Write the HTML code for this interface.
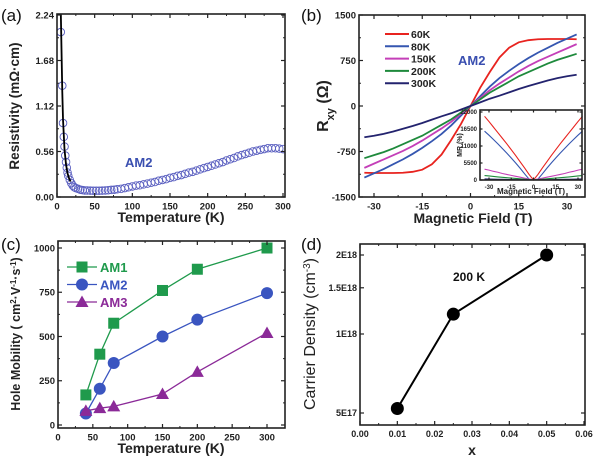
<!DOCTYPE html>
<html><head><meta charset="utf-8"><style>
html,body{margin:0;padding:0;background:#fff;}
svg{display:block;font-family:"Liberation Sans",Arial,sans-serif;}
.tk{font-weight:bold;fill:#222;}
.ttl{font-weight:bold;fill:#222;}
.pl{font-size:17px;fill:#111;}
</style></head><body>
<svg id="fig" width="600" height="462" viewBox="0 0 600 462" xmlns="http://www.w3.org/2000/svg"></svg>
<script>
// ---- Panel (a) data ----
const aTemps=[5,7,8,9,10,11,12,13,14,15,17,19,21,23,25,28,31,34,37,40,44,48,52,56,60,64,68,72,76,80,85,90,95,100,105,110,115,120,125,130,135,140,145,150,155,160,165,170,175,180,185,190,195,200,205,210,215,220,225,230,235,240,245,250,255,260,265,270,275,280,285,290,295,300];
const aRes=[2.03,1.37,0.91,0.74,0.62,0.51,0.43,0.36,0.3,0.26,0.21,0.17,0.14,0.12,0.11,0.1,0.09,0.085,0.08,0.08,0.078,0.077,0.077,0.077,0.078,0.08,0.083,0.087,0.09,0.095,0.1,0.11,0.12,0.13,0.14,0.145,0.155,0.165,0.175,0.185,0.2,0.21,0.22,0.235,0.245,0.26,0.27,0.285,0.3,0.31,0.325,0.34,0.355,0.37,0.385,0.4,0.415,0.43,0.45,0.465,0.48,0.5,0.515,0.53,0.545,0.56,0.57,0.58,0.59,0.6,0.6,0.6,0.595,0.59];
const aFitT=[4.5,5,6,7,8,10,12,14,16,18];
const aFitR=[2.6,2.3,1.8,1.3,0.95,0.58,0.4,0.29,0.23,0.19];
const aXTicks=[0,50,100,150,200,250,300];
const aYTicks=[0,0.56,1.12,1.68,2.24];
const aYLabels=["0.00","0.56","1.12","1.68","2.24"];
// ---- Panel (b) data ----
const bFields=[0,3,6,9,12,15,18,21,24,27,30,33];
const bNames=["60K","80K","150K","200K","300K"];
const bColors=["#e8231f","#3556b0","#c43fb8","#1e8a3c","#23236e"];
const b60=[0,300,560,800,960,1050,1085,1100,1105,1105,1105,1100];
const b80=[0,160,320,460,580,690,790,880,960,1040,1110,1180];
const b150=[0,130,260,370,470,570,660,740,810,880,950,1020];
const b200=[0,110,220,310,400,490,560,630,700,760,810,860];
const b300=[0,60,120,170,225,280,330,375,420,460,490,515];
const bXTicks=[-30,-15,0,15,30];
const bYTicks=[-1500,-750,0,750,1500];
const mr60=[0,1800,3900,5900,7900,9800,11700,13500,15300,17100,18900,20600];
const mr80=[0,300,2000,3800,5500,7100,8700,10200,11700,13100,14500,15800];
const mr150=[0,300,600,900,1200,1500,1800,2100,2500,2800,3200,3500];
const mr200=[0,120,250,380,500,630,750,880,1000,1150,1300,1450];
const mr300=[0,30,60,90,120,150,180,210,240,270,300,330];
const mrYTicks=[0,5500,11000,16500,22000];
// ---- Panel (c) data ----
const cTemps=[40,60,80,150,200,300];
const cAM1=[170,400,575,760,880,1000];
const cAM2=[65,205,350,500,595,745];
const cAM3=[80,95,105,175,300,520];
const cXTicks=[0,50,100,150,200,250,300];
const cYTicks=[0,250,500,750,1000];
// ---- Panel (d) data ----
const dX=[0.01,0.025,0.05];
const dN=[5.2e17,1.19e18,2e18];
const dXTicks=[0,0.01,0.02,0.03,0.04,0.05,0.06];
const dYTicks=[5e17,1e18,1.5e18,2e18];
const dYLabels=["5E17","1E18","1.5E18","2E18"];

const NS="http://www.w3.org/2000/svg";
const fig=document.getElementById('fig');
function el(tag,attrs,parent,text){const e=document.createElementNS(NS,tag);for(const k in attrs)e.setAttribute(k,attrs[k]);if(text!==undefined)e.textContent=text;(parent||fig).appendChild(e);return e;}
function lin(d0,d1,r0,r1){return v=>r0+(v-d0)/(d1-d0)*(r1-r0);}

function frame(g,L,T,R,B,sx,sy,xt,yt,xl,yl,fs,minorX,minorY,tl){
  fs=fs||9.5;tl=tl||4;
  const box=el('rect',{x:L,y:T,width:R-L,height:B-T,fill:'none',stroke:'#222','stroke-width':1.6},g);
  
  
  xt.forEach((v,i)=>{const x=sx(v);
    el('line',{x1:x,x2:x,y1:B,y2:B-tl,stroke:'#222','stroke-width':1.2},g);
    el('line',{x1:x,x2:x,y1:T,y2:T+tl,stroke:'#222','stroke-width':1.2},g);
    const t=el('text',{x:x,y:B+fs+3,'text-anchor':'middle',class:'tk',style:'font-size:'+fs+'px'},g,xl[i]);
    
    });
  yt.forEach((v,i)=>{const y=sy(v);
    el('line',{x1:L,x2:L+tl,y1:y,y2:y,stroke:'#222','stroke-width':1.2},g);
    el('line',{x1:R,x2:R-tl,y1:y,y2:y,stroke:'#222','stroke-width':1.2},g);
    const t=el('text',{x:L-3,y:y+fs*0.35,'text-anchor':'end',class:'tk',style:'font-size:'+fs+'px'},g,yl[i]);
    
    });
  (minorX||[]).forEach(v=>{const x=sx(v);el('line',{x1:x,x2:x,y1:B,y2:B-2,stroke:'#222'},g);el('line',{x1:x,x2:x,y1:T,y2:T+2,stroke:'#222'},g);});
  (minorY||[]).forEach(v=>{const y=sy(v);el('line',{x1:L,x2:L+2,y1:y,y2:y,stroke:'#222'},g);el('line',{x1:R,x2:R-2,y1:y,y2:y,stroke:'#222'},g);});
}
function poly(g,xs,ys,sx,sy,color,w,name){
  const p=el('polyline',{points:xs.map((x,i)=>sx(x)+','+sy(ys[i])).join(' '),fill:'none',stroke:color,'stroke-width':w},g);
  
  
  return p;
}
function mids(a){const r=[];for(let i=0;i<a.length-1;i++)r.push((a[i]+a[i+1])/2);return r;}

// ===== Panel (a) =====
{const g=el('g',{});


const L=57,T=14,R=285,B=197;
const sx=lin(0,300,57,283),sy=lin(0,2.24,197,15);
el('clipPath',{id:'ca'},g);el('rect',{x:L,y:T,width:R-L,height:B-T},document.getElementById('ca'));
const dg=el('g',{'clip-path':'url(#ca)'},g);
aTemps.forEach((t,i)=>{const c=el('circle',{cx:sx(t),cy:sy(aRes[i]),r:3.8,fill:'none',stroke:'#5a5fc0','stroke-width':0.9},dg);

});
poly(dg,aFitT,aFitR,sx,sy,'#000',1.8,'fit-line');
frame(g,L,T,R,B,sx,sy,aXTicks,aYTicks,aXTicks.map(String),aYLabels,9.5,mids(aXTicks),mids(aYTicks));
let t=el('text',{x:125,y:167,fill:'#3a4fb0',style:'font-size:13px','font-weight':'bold'},g,'AM2');

t=el('text',{x:171,y:222,'text-anchor':'middle',class:'ttl',style:'font-size:14px'},g,'Temperature (K)');

t=el('text',{transform:'translate(19,106) rotate(-90)','text-anchor':'middle',class:'ttl',style:'font-size:13.5px'},g,'Resistivity (mΩ·cm)');

t=el('text',{x:1,y:21,class:'pl'},g,'(a)');

}

// ===== Panel (b) =====
{const g=el('g',{});


const L=359,T=15,R=585,B=197;
const sx=lin(-30,30,374,567),sy=lin(-1500,1500,197,15);
const series=[b60,b80,b150,b200,b300];
series.forEach((s,k)=>{const xs=[],ys=[];
 for(let i=bFields.length-1;i>0;i--){xs.push(-bFields[i]);ys.push(-s[i]);}
 bFields.forEach((f,i)=>{xs.push(f);ys.push(s[i]);});
 poly(g,xs,ys,sx,sy,bColors[k],1.8,'rxy-curve-'+bNames[k]);});
frame(g,L,T,R,B,sx,sy,bXTicks,bYTicks,bXTicks.map(String),bYTicks.map(String),9.5,mids(bXTicks),mids(bYTicks));
bNames.forEach((n,k)=>{const y=34+k*12.3;
 const ln=el('line',{x1:385,x2:409,y1:y,y2:y,stroke:bColors[k],'stroke-width':2},g);
 
 const t=el('text',{x:411,y:y+4,class:'tk',style:'font-size:10.5px'},g,n);
 });
let t=el('text',{x:458,y:65,fill:'#3a4fb0',style:'font-size:13px','font-weight':'bold'},g,'AM2');

// inset
const ig=el('g',{},g);


const iL=480,iT=110,iR=582,iB=180;
el('rect',{x:iL,y:iT,width:iR-iL,height:iB-iT,fill:'#fff'},ig);
const ix=lin(-30,30,489,578),iy=lin(0,22000,180,112);
[mr60,mr80,mr150,mr200,mr300].forEach((s,k)=>{const xs=[],ys=[];
 for(let i=bFields.length-1;i>0;i--){xs.push(-bFields[i]);ys.push(s[i]);}
 bFields.forEach((f,i)=>{xs.push(f);ys.push(s[i]);});
 poly(ig,xs,ys,ix,iy,bColors[k],1.1,'mr-curve-'+bNames[k]);});
frame(ig,iL,iT,iR,iB,ix,iy,bXTicks,mrYTicks,bXTicks.map(String),mrYTicks.map(String),6,null,null,2.5);
t=el('text',{x:531,y:194,'text-anchor':'middle',style:'font-size:8px','font-weight':'bold',fill:'#222'},ig,'Magnetic Field (T)');

t=el('text',{transform:'translate(462,145) rotate(-90)','text-anchor':'middle',style:'font-size:7px','font-weight':'bold',fill:'#222'},ig,'MR (%)');

t=el('text',{x:473,y:223,'text-anchor':'middle',class:'ttl',style:'font-size:14px'},g,'Magnetic Field (T)');

t=el('text',{transform:'translate(328,106) rotate(-90)','text-anchor':'middle',class:'ttl',style:'font-size:16px'},g);

t.innerHTML='R<tspan baseline-shift="sub" style="font-size:11px">xy</tspan> (Ω)';
t=el('text',{x:301,y:21,class:'pl'},g,'(b)');

}

// ===== Panel (c) =====
{const g=el('g',{});


const L=58,T=241,R=285,B=428;
const sx=lin(0,300,58,267),sy=lin(0,1000,425,248);
const cols=['#1f9a4c','#3a55c0','#8b2a98'],names=['AM1','AM2','AM3'];
[cAM1,cAM2,cAM3].forEach((s,k)=>{
 poly(g,cTemps,s,sx,sy,cols[k],1.3,'mobility-line-'+names[k]);
 cTemps.forEach((t,i)=>{const x=sx(t),y=sy(s[i]);let m;
  if(k===0)m=el('rect',{x:x-5.5,y:y-5.5,width:11,height:11,fill:cols[k]},g);
  else if(k===1)m=el('circle',{cx:x,cy:y,r:6,fill:cols[k]},g);
  else m=el('polygon',{points:`${x},${y-6.5} ${x-6.5},${y+5} ${x+6.5},${y+5}`,fill:cols[k]},g);
  
  });});
frame(g,L,T,R,B,sx,sy,cXTicks,cYTicks,cXTicks.map(String),cYTicks.map(String),9.5,mids(cXTicks),mids(cYTicks));
names.forEach((n,k)=>{const y=267+k*17.5,x=82;
 el('line',{x1:67,x2:97,y1:y,y2:y,stroke:cols[k],'stroke-width':1.3},g);
 let m;
 if(k===0)m=el('rect',{x:x-5.5,y:y-5.5,width:11,height:11,fill:cols[k]},g);
 else if(k===1)m=el('circle',{cx:x,cy:y,r:6,fill:cols[k]},g);
 else m=el('polygon',{points:`${x},${y-6.5} ${x-6.5},${y+5} ${x+6.5},${y+5}`,fill:cols[k]},g);
 
 const t=el('text',{x:100,y:y+5,fill:cols[k],style:'font-size:13px','font-weight':'bold'},g,n);
 });
let t=el('text',{x:171,y:453,'text-anchor':'middle',class:'ttl',style:'font-size:14px'},g,'Temperature (K)');

t=el('text',{transform:'translate(20,334) rotate(-90)','text-anchor':'middle',class:'ttl',style:'font-size:12.5px'},g);

t.innerHTML='Hole Mobility ( cm<tspan baseline-shift="super" style="font-size:8px">2</tspan>·V<tspan baseline-shift="super" style="font-size:8px">-1</tspan>·s<tspan baseline-shift="super" style="font-size:8px">-1</tspan>)';
t=el('text',{x:1,y:250,class:'pl'},g,'(c)');

}

// ===== Panel (d) =====
{const g=el('g',{});


const L=360,T=244,R=585,B=425;
const sx=lin(0,0.06,360,584);
const ly=lin(Math.log(5e17),Math.log(1e18),413,334);
const sy=v=>ly(Math.log(v));
poly(g,dX,dN,sx,sy,'#000',2,'density-line');
dX.forEach((x,i)=>{const c=el('circle',{cx:sx(x),cy:sy(dN[i]),r:6.5,fill:'#000'},g);
 });
frame(g,L,T,R,B,sx,sy,dXTicks,dYTicks,dXTicks.map(v=>v.toFixed(2)),dYLabels,9,mids(dXTicks),[]);
let t=el('text',{x:453,y:281,style:'font-size:12px','font-weight':'bold',fill:'#111'},g,'200 K');

t=el('text',{x:472,y:455,'text-anchor':'middle',class:'ttl',style:'font-size:14px'},g,'x');

t=el('text',{transform:'translate(315,334) rotate(-90)','text-anchor':'middle',style:'font-size:16px',fill:'#222'},g);

t.innerHTML='Carrier Density (cm<tspan baseline-shift="super" style="font-size:10px">-3</tspan>)';
t=el('text',{x:301,y:250,class:'pl'},g,'(d)');

}
</script>
</body></html>
